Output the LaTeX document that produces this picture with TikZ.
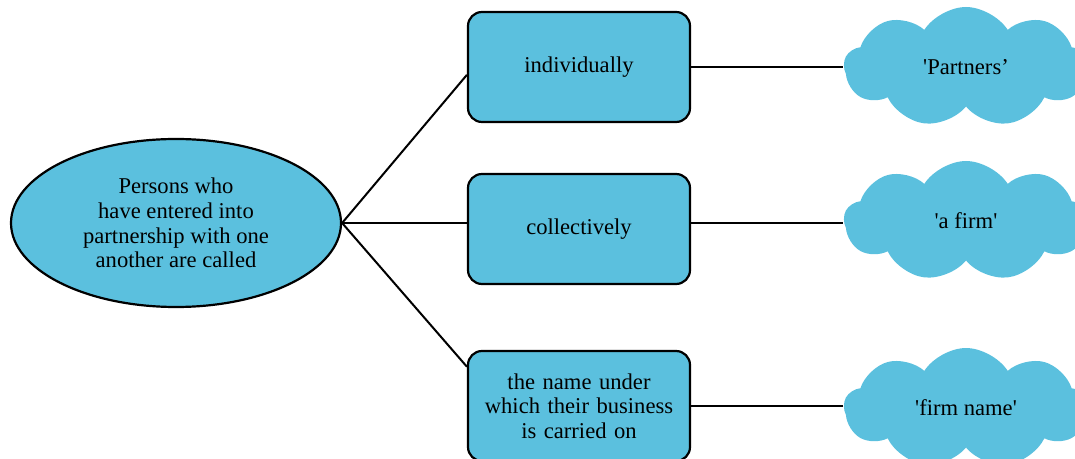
\documentclass[tikz,border=0pt]{standalone}
\usepackage{fontspec}
\setmainfont{Liberation Serif}
\usetikzlibrary{positioning, shapes.geometric, shapes.symbols, calc}
\definecolor{mapBlue}{HTML}{5BC0DE}
\definecolor{mapDark}{HTML}{000000}

\begin{document}
\begin{tikzpicture}[
    x=0.5pt, y=-0.5pt,
    every node/.style={font=\fontsize{11.3}{12.3}\selectfont, text=mapDark, align=center},
    root/.style={ellipse, draw=mapDark, line width=1.1pt, fill=mapBlue,
                 minimum width=165pt, minimum height=84pt, inner sep=0pt},
    term/.style={rectangle, draw=mapDark, line width=1.1pt, fill=mapBlue,
                 rounded corners=7pt, minimum width=111pt, minimum height=55pt,
                 text width=104pt},
    callname/.style={cloud, cloud puffs=9, cloud puff arc=115, aspect=2,
                 fill=mapBlue, draw=none, minimum width=122pt, minimum height=60pt},
    link/.style={draw=mapDark, line width=1pt},
]
% page 1075 x 459 px
\clip (0,0) rectangle (1075,459);
% left: the question
\node[root] (persons) at (176,223) {Persons who\\ have entered into\\ partnership with one\\ another are called};
% middle: the three ways
\node[term] (indiv) at (579,67)  {individually};
\node[term] (coll)  at (579,229) {collectively};
\node[term] (under) at (579,406) {the name under\\ which their business\\ is carried on};
% right: what they are called
\node[callname] (partners) at (966,67)  {\textquotesingle Partners'};
\node[callname] (firm)     at (966,221) {\textquotesingle a firm\textquotesingle};
\node[callname] (firmname) at (966,408) {\textquotesingle firm name\textquotesingle};
% links
\draw[link] (persons.east) -- ($(indiv.north west)!0.57!(indiv.south west)$);
\draw[link] (persons.east) -- (persons.east -| coll.west);
\draw[link] (persons.east) -- ($(under.north west)!0.15!(under.south west)$);
\draw[link] (indiv.east) -- (indiv.east -| partners.west);
\draw[link] (persons.east -| coll.east) -- (persons.east -| firm.west);
\draw[link] (under.east) -- (under.east -| firmname.west);
\end{tikzpicture}
\end{document}
